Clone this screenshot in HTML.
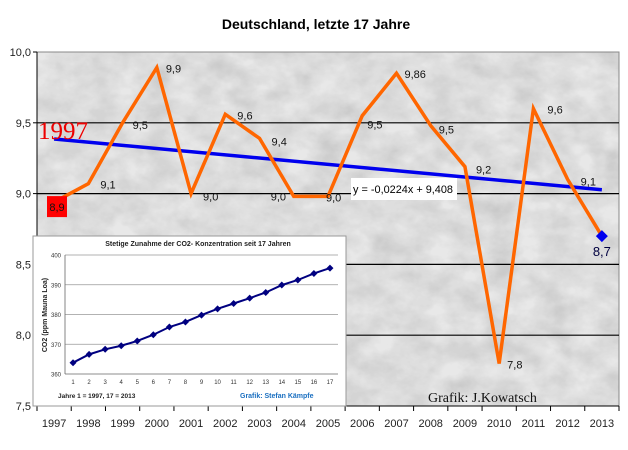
<!DOCTYPE html>
<html><head><meta charset="utf-8"><style>
html,body{margin:0;padding:0;background:#fff;}
svg{display:block;font-family:"Liberation Sans",Arial,sans-serif;}
</style></head><body>
<svg id="c" width="628" height="450" viewBox="0 0 628 450" xmlns="http://www.w3.org/2000/svg">
<defs>
<filter id="marble" x="0" y="0" width="100%" height="100%">
<feTurbulence type="fractalNoise" baseFrequency="0.035 0.05" numOctaves="4" seed="7"/>
<feColorMatrix type="matrix" values="0 0 0 0 0  0 0 0 0 0  0 0 0 0 0  0.9 0.9 0 0 -0.55"/>
<feComponentTransfer><feFuncA type="linear" slope="0.9"/></feComponentTransfer>
</filter>
</defs>
<text x="316" y="29" text-anchor="middle" font-size="14" font-weight="bold">Deutschland, letzte 17 Jahre</text>
<rect x="37" y="52" width="582" height="354" fill="#e8e8e8"/>
<rect x="37" y="52" width="582" height="354" fill="#000" filter="url(#marble)" opacity="0.16"/>
<rect x="37" y="52" width="582" height="354" fill="none" stroke="#888" stroke-width="1"/>
<g id="grid"></g><g id="axes"></g><g id="inset"></g><g id="series"></g><g id="labels"></g>
</svg>
<script>
var years=["1997","1998","1999","2000","2001","2002","2003","2004","2005","2006","2007","2008","2009","2010","2011","2012","2013"];
var temps=[8.94,9.07,9.5,9.89,9.0,9.56,9.39,8.98,8.98,9.55,9.85,9.48,9.19,7.8,9.6,9.1,8.7];
var tempLabels=["8,9","9,1","9,5","9,9","9,0","9,6","9,4","9,0","9,0","9,5","9,86","9,5","9,2","7,8","9,6","9,1","8,7"];
var yTicks=[7.5,8.0,8.5,9.0,9.5,10.0];
var yTickLabels=["7,5","8,0","8,5","9,0","9,5","10,0"];
var trendSlope=-0.0224, trendIntercept=9.408;
var co2Years=["1","2","3","4","5","6","7","8","9","10","11","12","13","14","15","16","17"];
var co2=[363.8,366.6,368.3,369.5,371.1,373.2,375.8,377.5,379.8,381.9,383.7,385.5,387.4,389.9,391.6,393.8,395.6];
var co2Ticks=[360,370,380,390,400];

var NS="http://www.w3.org/2000/svg";
function mk(p,t,a,txt){var e=document.createElementNS(NS,t);for(var k in a)e.setAttribute(k,a[k]);if(txt!=null)e.textContent=txt;p.appendChild(e);return e;}
var L=37,R=619,T=52,B=406;
var bw=(R-L)/years.length;
function X(i){return L+bw*(i+0.5);}
function Y(v){return B-(v-7.5)/2.5*(B-T);}
var grid=document.getElementById('grid'),axes=document.getElementById('axes');
yTicks.forEach(function(v,i){
 if(v>7.5&&v<10){var g=mk(grid,'line',{x1:L,x2:R,y1:Y(v),y2:Y(v),stroke:'#000','stroke-width':1.2});
 
 }
 var t=mk(axes,'text',{x:31,y:Y(v)+4,'text-anchor':'end','font-size':11,fill:'#222'},yTickLabels[i]);
 
 
 var tk=mk(axes,'line',{x1:L-4,x2:L,y1:Y(v),y2:Y(v),stroke:'#000'});
 
 
});
var xa=mk(axes,'line',{x1:L,x2:R,y1:B,y2:B,stroke:'#000'});


var ya=mk(axes,'line',{x1:L,x2:L,y1:T,y2:B,stroke:'#000'});


years.forEach(function(y,i){
 var tk=mk(axes,'line',{x1:L+bw*(i+1),x2:L+bw*(i+1),y1:B,y2:B+5,stroke:'#000'});
 
 
 var t=mk(axes,'text',{x:X(i),y:427,'text-anchor':'middle','font-size':11,fill:'#222'},y);
 
 
});
mk(axes,'line',{x1:L,x2:L,y1:B,y2:B+5,stroke:'#000'});

// inset CO2 chart
var ins=document.getElementById('inset');
var ib=mk(ins,'rect',{x:33,y:236,width:313,height:170,fill:'#fff',stroke:'#999'});


var iL=65,iR=338,iT=255,iB=374;
function iX(i){return iL+(iR-iL)/co2Years.length*(i+0.5);}
function iY(v){return iB-(v-360)/40*(iB-iT);}
var it=mk(ins,'text',{x:198,y:246,'text-anchor':'middle','font-size':7,'font-weight':'bold',fill:'#222'},'Stetige Zunahme der CO2- Konzentration seit 17 Jahren');


co2Ticks.forEach(function(v){
 var g=mk(ins,'line',{x1:iL,x2:iR,y1:iY(v),y2:iY(v),stroke:v==360?'#666':'#999','stroke-width':0.8});
 
 
 var t=mk(ins,'text',{x:iL-4,y:iY(v)+2.5,'text-anchor':'end','font-size':6,fill:'#333'},String(v));
 
 
});
mk(ins,'line',{x1:iL,x2:iL,y1:iT,y2:iB,stroke:'#666','stroke-width':0.8});
co2Years.forEach(function(y,i){
 var t=mk(ins,'text',{x:iX(i),y:384,'text-anchor':'middle','font-size':6,fill:'#333'},y);
 
 
});
var yt=mk(ins,'text',{x:0,y:0,'text-anchor':'middle','font-size':7,'font-weight':'bold',fill:'#222',transform:'translate(47,315) rotate(-90)'},'CO2 (ppm Mauna Loa)');


var cp=co2.map(function(v,i){return iX(i)+','+iY(v);}).join(' ');
var cl=mk(ins,'polyline',{points:cp,fill:'none',stroke:'#000080','stroke-width':2});


co2.forEach(function(v,i){
 var x=iX(i),y=iY(v);
 var m=mk(ins,'polygon',{points:(x)+','+(y-3.5)+' '+(x+3.5)+','+y+' '+x+','+(y+3.5)+' '+(x-3.5)+','+y,fill:'#000080'});
 
 
});
var f1=mk(ins,'text',{x:58,y:398,'font-size':6.5,'font-weight':'bold',fill:'#222'},'Jahre 1 = 1997, 17 = 2013');


var f2=mk(ins,'text',{x:240,y:398,'font-size':7,'font-weight':'bold',fill:'#1a6fc0'},'Grafik: Stefan Kämpfe');



// main series
var s=document.getElementById('series');
var tr=mk(s,'line',{x1:X(0),y1:Y(trendIntercept+trendSlope*1),x2:X(16),y2:Y(trendIntercept+trendSlope*17),stroke:'#0000ee','stroke-width':3.5});


var pts=temps.map(function(v,i){return X(i)+','+Y(v);}).join(' ');
var tl=mk(s,'polyline',{points:pts,fill:'none',stroke:'#ff6600','stroke-width':3.5,'stroke-linejoin':'miter'});


var last=temps.length-1,lx=X(last),ly=Y(temps[last]);
var lm=mk(s,'polygon',{points:lx+','+(ly-6)+' '+(lx+6)+','+ly+' '+lx+','+(ly+6)+' '+(lx-6)+','+ly,fill:'#0000ee'});



// labels
var lb=document.getElementById('labels');
var ldx=[0,12,10,9,12,12,12,-23,-2,5,8,8,11,8,14,13,0];
var ldy=[0,1,2,1,3,1,3,0,1,9,1,4,3,1,1,2,20];
temps.forEach(function(v,i){
 if(i==0||i==last)return;
 var t=mk(lb,'text',{x:X(i)+ldx[i],y:Y(v)+ldy[i]+4,'font-size':11,fill:'#111'},tempLabels[i]);
 
 
});
var t2=mk(lb,'text',{x:lx,y:ly+20,'text-anchor':'middle','font-size':13,fill:'#000040'},tempLabels[last]);


var rb=mk(lb,'rect',{x:47,y:Y(temps[0])-6,width:20,height:21,fill:'#ff0000'});


var t1=mk(lb,'text',{x:57,y:Y(temps[0])+9,'text-anchor':'middle','font-size':11,fill:'#111'},tempLabels[0]);


var yr=mk(lb,'text',{x:38,y:139,'font-size':25,fill:'#ee0000','font-family':'"Liberation Serif",serif'},'1997');


var eb=mk(lb,'rect',{x:351,y:178,width:106,height:22,fill:'#fff'});


var eq=mk(lb,'text',{x:353,y:193,'font-size':11,fill:'#000',textLength:100,lengthAdjust:'spacingAndGlyphs'},'y = -0,0224x + 9,408');


var cr=mk(lb,'text',{x:428,y:402,'font-size':14,fill:'#111','font-family':'"Liberation Serif",serif'},'Grafik: J.Kowatsch');


</script>
</body></html>
